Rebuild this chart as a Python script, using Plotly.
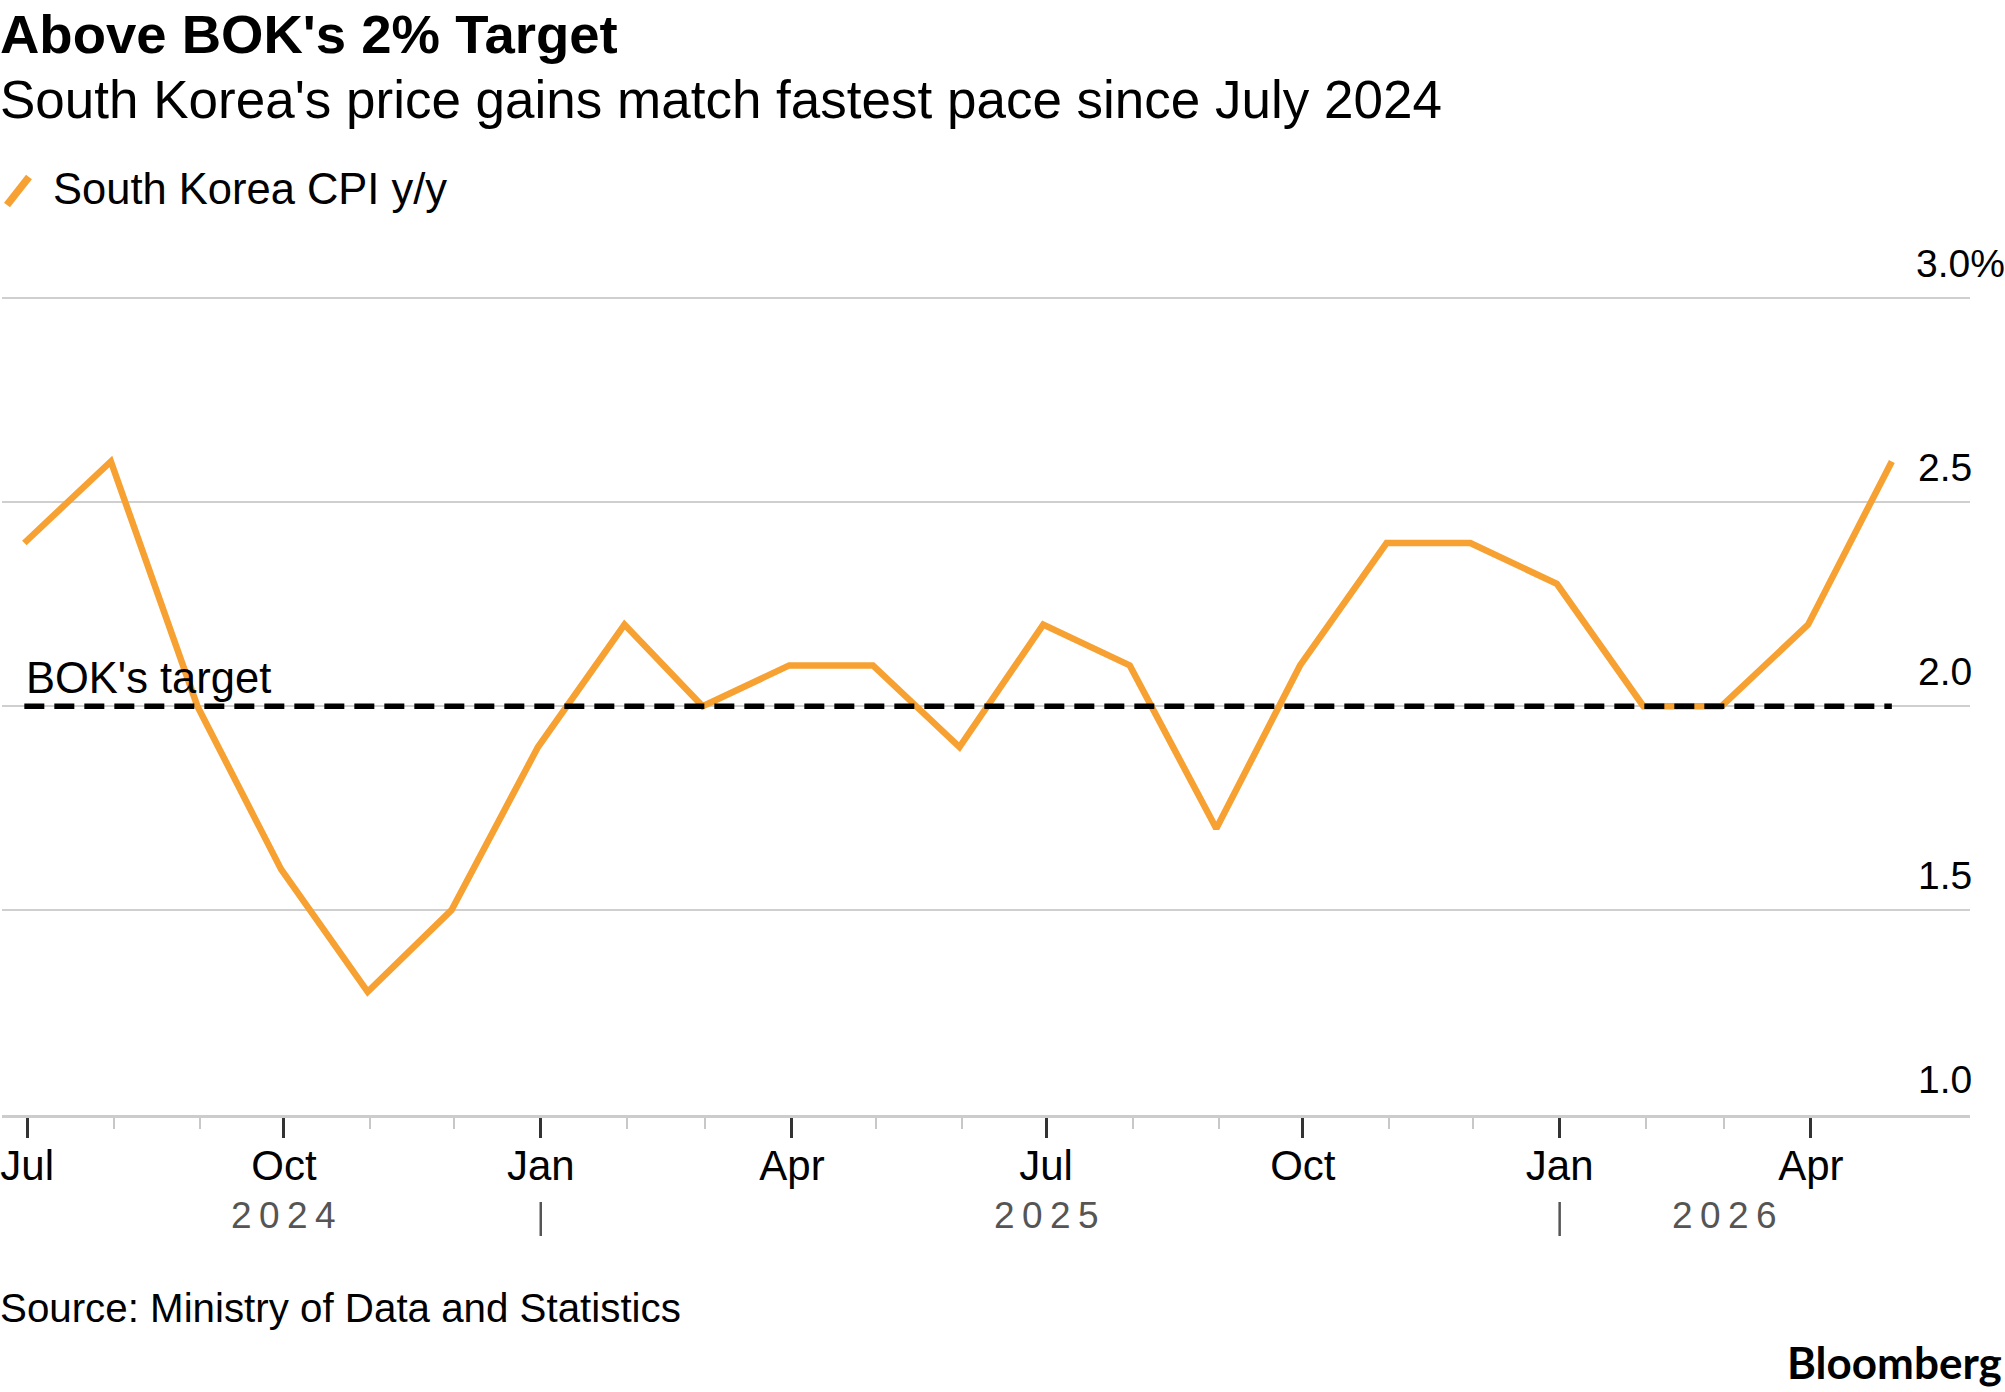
import plotly.graph_objects as go

# monthly CPI y/y, plotted at month end
dates = [
    "2024-06-30", "2024-07-31", "2024-08-31", "2024-09-30", "2024-10-31", "2024-11-30",
    "2024-12-31", "2025-01-31", "2025-02-28", "2025-03-31", "2025-04-30", "2025-05-31",
    "2025-06-30", "2025-07-31", "2025-08-31", "2025-09-30", "2025-10-31", "2025-11-30",
    "2025-12-31", "2026-01-31", "2026-02-28", "2026-03-31", "2026-04-30",
]
cpi = [2.4, 2.6, 2.0, 1.6, 1.3, 1.5, 1.9, 2.2, 2.0, 2.1, 2.1, 1.9,
       2.2, 2.1, 1.7, 2.1, 2.4, 2.4, 2.3, 2.0, 2.0, 2.2, 2.6]
target = 2.0

quarter_ticks = ["2024-07-01", "2024-10-01", "2025-01-01", "2025-04-01",
                 "2025-07-01", "2025-10-01", "2026-01-01", "2026-04-01"]
quarter_labels = ["Jul", "Oct", "Jan", "Apr", "Jul", "Oct", "Jan", "Apr"]
month_ticks = ["2024-08-01", "2024-09-01", "2024-11-01", "2024-12-01",
               "2025-02-01", "2025-03-01", "2025-05-01", "2025-06-01",
               "2025-08-01", "2025-09-01", "2025-11-01", "2025-12-01",
               "2026-02-01", "2026-03-01"]
year_labels = ["2024", "2025", "2026"]
year_label_pos = ["2024-10-01", "2025-07-01", "2026-03-01"]
year_breaks = ["2025-01-01", "2026-01-01"]

y_ticks = [1.0, 1.5, 2.0, 2.5, 3.0]
y_labels = ["1.0", "1.5", "2.0", "2.5", "3.0%"]

ORANGE = "#F6A131"
FONT = "Liberation Sans"

# plot area in pixels
W, H = 2005, 1392
PT, PB, PR = 297, 1115, 1970


def py(y_px):
    return (PB - y_px) / (PB - PT)


def px(x_px):
    return x_px / PR


fig = go.Figure()

fig.add_trace(go.Scatter(
    x=dates, y=cpi, mode="lines",
    line=dict(color=ORANGE, width=6.5),
    name="South Korea CPI y/y", showlegend=False, hoverinfo="skip",
))
fig.add_trace(go.Scatter(
    x=[dates[0], dates[-1]], y=[target, target], mode="lines",
    line=dict(color="black", width=5.5, dash="20px,10px"),
    showlegend=False, hoverinfo="skip",
))

annotations = [
    dict(text="<b>Above BOK's 2% Target</b>", x=0, y=py(34), font=dict(size=54.5)),
    dict(text="South Korea's price gains match fastest pace since July 2024",
         x=0, y=py(99), font=dict(size=53)),
    dict(text="South Korea CPI y/y", x=px(53), y=py(189), font=dict(size=43.5)),
    dict(text="Source: Ministry of Data and Statistics", x=0, y=py(1308), font=dict(size=40.3)),
    dict(text="<b>Bloomberg</b>", x=px(2004), y=py(1362), xanchor="right",
         font=dict(size=44, family="Lato")),
]
for a in annotations:
    if a.setdefault("xanchor", "left") == "left":
        a["xshift"] = -4
    a.update(xref="paper", yref="paper", yanchor="middle", showarrow=False)
    a["font"].setdefault("family", FONT)
    a["font"].setdefault("color", "black")
    fig.add_annotation(**a)

# y tick labels sit above the gridlines on the right
for v, lab in zip(y_ticks, y_labels):
    fig.add_annotation(
        text=lab, x=1, xref="paper", y=v, yref="y", xanchor="right", yanchor="middle",
        xshift=37 if lab.endswith("%") else 4, yshift=35, showarrow=False,
        font=dict(family=FONT, size=39, color="black"),
    )

# target label
fig.add_annotation(
    text="BOK's target", x=dates[0], y=target, xref="x", yref="y",
    xanchor="left", yanchor="middle", yshift=28, xshift=0, showarrow=False,
    font=dict(family=FONT, size=43.5, color="black"),
)

# year labels and separators
for lab, pos in zip(year_labels, year_label_pos):
    fig.add_annotation(
        text="\u2009".join(lab), x=pos, xref="x", y=py(1215), yref="paper",
        xanchor="center", yanchor="middle", showarrow=False,
        font=dict(family=FONT, size=37, color="#555555"),
    )
for b in year_breaks:
    fig.add_shape(type="line", x0=b, x1=b, xref="x", y0=py(1202), y1=py(1236), yref="paper",
                  line=dict(color="#555555", width=2.5))

# legend swatch
fig.add_shape(type="line", x0=px(5), x1=px(27), y0=py(205), y1=py(177),
              xref="paper", yref="paper", line=dict(color=ORANGE, width=7.5))

fig.update_layout(
    width=W, height=H,
    margin=dict(l=0, r=W - PR, t=PT, b=H - PB, pad=0),
    paper_bgcolor="white", plot_bgcolor="white",
    font=dict(family=FONT, color="black"),
    xaxis=dict(
        type="date", range=["2024-06-22", "2026-05-28"],
        tickmode="array", tickvals=quarter_ticks, ticktext=quarter_labels,
        ticks="outside", ticklen=20, tickwidth=3, tickcolor="#333333",
        tickfont=dict(size=42, family=FONT, color="black"),
        ticklabeloverflow="allow", ticklabelstandoff=-8,
        minor=dict(tickmode="array", tickvals=month_ticks, ticks="outside",
                   ticklen=11, tickwidth=2, tickcolor="#c8c8c8"),
        showgrid=False, showline=True, linecolor="#cccccc", linewidth=3,
        zeroline=False, fixedrange=True,
    ),
    yaxis=dict(
        range=[0.998, 3.003], tickmode="array", tickvals=y_ticks,
        showticklabels=False, ticks="",
        showgrid=True, gridcolor="#cfcfcf", gridwidth=2,
        zeroline=False, showline=False, fixedrange=True,
    ),
)

# page body has a default 8px margin; drop it so the chart sits at the window origin
fig.write_html("out.html", config={"displayModeBar": False},
               post_script="document.body.style.margin='0';")
